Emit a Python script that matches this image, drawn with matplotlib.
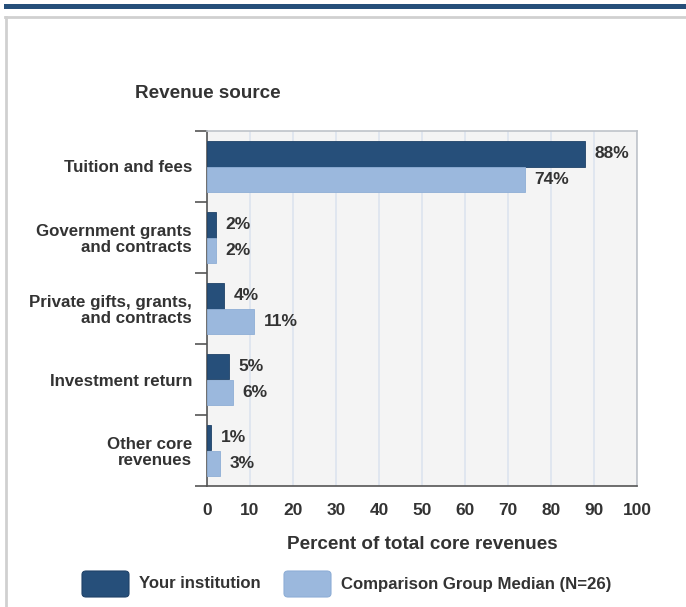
import matplotlib
matplotlib.use("Agg")
import matplotlib.pyplot as plt
from matplotlib.patches import Rectangle, FancyBboxPatch
import numpy as np

plt.rcParams['font.family'] = ['Liberation Sans', 'DejaVu Sans']

categories = ["Tuition and fees", "Government grants\nand contracts",
              "Private gifts, grants,\nand contracts", "Investment return",
              "Other core\nrevenues"]
your_inst = [88, 2, 4, 5, 1]
comparison = [74, 2, 11, 6, 3]
series_names = ["Your institution", "Comparison Group Median (N=26)"]
xticks = [0, 10, 20, 30, 40, 50, 60, 70, 80, 90, 100]

dark = "#264f7a"
light = "#9bb8dd"
txt = "#333333"

W, H = 686, 607
fig = plt.figure(figsize=(W/100, H/100), dpi=100)

# decorative frame
fig.add_artist(Rectangle((4/W, 1-9/H), 1, 5/H, transform=fig.transFigure,
                         color=dark, lw=0))
fig.add_artist(plt.Line2D([5/W, 1], [1-16.5/H, 1-16.5/H], transform=fig.transFigure,
                          color="#d0d0d0", lw=2))
fig.add_artist(plt.Line2D([5.5/W, 5.5/W], [0, 1-16.5/H], transform=fig.transFigure,
                          color="#d0d0d0", lw=2))

ax = fig.add_axes([207/W, 1-486/H, (637-207)/W, (486-131)/H])
ax.set_facecolor("#f4f4f4")
y = np.arange(len(categories))
h = 0.355
ax.barh(y - h/2, your_inst, height=h, color=dark, edgecolor="#1f4268", lw=0.6, zorder=3)
ax.barh(y + h/2, comparison, height=h, color=light, edgecolor="#8eaed6", lw=0.6, zorder=3)
for yi, v in zip(y, your_inst):
    ax.text(v + 2.2, yi - h/2, f"{v}%", va="center", ha="left", fontsize=12.5,
            fontweight="bold", color=txt, zorder=4)
for yi, v in zip(y, comparison):
    ax.text(v + 2.2, yi + h/2, f"{v}%", va="center", ha="left", fontsize=12.5,
            fontweight="bold", color=txt, zorder=4)

ax.set_xlim(0, 100)
ax.set_ylim(len(categories) - 0.5, -0.5)
ax.set_xticks(xticks)
ax.set_xticklabels([str(t) for t in xticks], fontsize=12.5, fontweight="bold", color=txt)
ax.tick_params(axis="x", length=0, pad=12.5)
ax.set_yticks(y)
ax.set_yticklabels(categories, fontsize=12.2, fontweight="bold", color=txt, linespacing=1.05)
ax.tick_params(axis="y", which="major", length=0, pad=10.8)
ax.set_yticks(np.arange(-0.5, len(categories)), minor=True)
ax.tick_params(axis="y", which="minor", length=9, width=1.2, color="#555555")
ax.grid(axis="x", color="#dde4ef", lw=1.2, zorder=1)
for s in ["left", "bottom"]:
    ax.spines[s].set_color("#555555")
    ax.spines[s].set_linewidth(1.2)
for s in ["right", "top"]:
    ax.spines[s].set_color("#bfc3c9")
    ax.spines[s].set_linewidth(1.2)
ax.set_xlabel("Percent of total core revenues", fontsize=13.6, fontweight="bold",
              color=txt, labelpad=12.5)

fig.text(135/W, 1-93/H, "Revenue source", fontsize=13.6, fontweight="bold",
         color=txt, va="center", ha="left")

# legend
for x0, c, ec, name in [(82, dark, "#1f4268", series_names[0]),
                        (284, light, "#8eaed6", series_names[1])]:
    fig.add_artist(FancyBboxPatch((x0/W, 1-597/H), 47/W, 26/H,
                                  boxstyle="round,pad=0,rounding_size=0.006",
                                  transform=fig.transFigure, fc=c, ec=ec, lw=0.8))
    fig.text((x0+57)/W, 1-584/H, name, fontsize=12.1, fontweight="bold",
             color=txt, va="center", ha="left")

fig.savefig("out.png", dpi=100)
